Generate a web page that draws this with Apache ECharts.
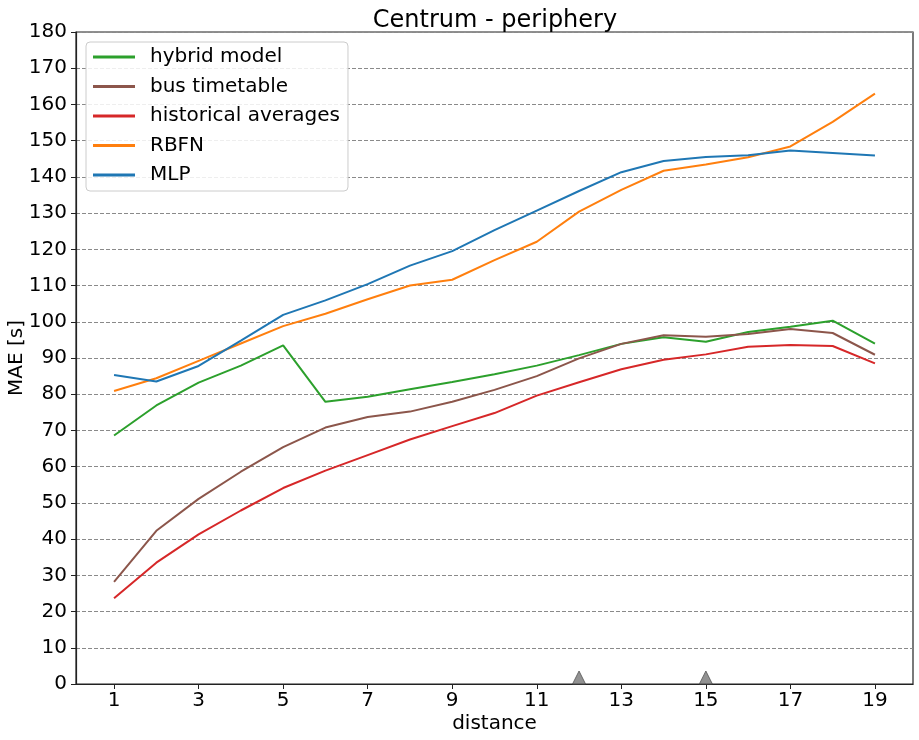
<!DOCTYPE html>
<html>
<head>
<meta charset="utf-8">
<script src="https://cdn.jsdelivr.net/npm/echarts@6/dist/echarts.min.js"></script>
<style>html,body{margin:0;padding:0;background:#fff}#c{width:919px;height:740px}</style>
</head>
<body>
<div id="c"></div>
<script>
var distances = [1,2,3,4,5,6,7,8,9,10,11,12,13,14,15,16,17,18,19];
var hybridModel = [68.6,76.9,83.2,87.9,93.5,77.9,79.3,81.4,83.4,85.5,87.9,90.8,93.9,95.7,94.5,97.2,98.6,100.3,94.0];
var busTimetable = [28.2,42.3,51.1,58.6,65.4,70.8,73.7,75.2,77.9,81.2,85.0,89.9,93.9,96.3,95.9,96.6,98.0,96.9,90.9];
var historicalAverages = [23.7,33.5,41.3,47.9,54.1,58.9,63.2,67.5,71.2,74.8,79.6,83.3,86.9,89.5,91.0,93.1,93.6,93.3,88.5];
var rbfn = [80.9,84.4,89.2,94.0,98.8,102.2,106.2,110.0,111.6,117.0,122.1,130.4,136.4,141.7,143.4,145.4,148.4,155.2,163.0];
var mlp = [85.3,83.5,87.8,94.8,101.9,105.9,110.4,115.5,119.5,125.3,130.7,136.1,141.3,144.4,145.5,146.0,147.3,146.6,145.9];
var markerDistances = [12,15];
var xTicks = [1,3,5,7,9,11,13,15,17,19];
var seriesNames = ['hybrid model','bus timetable','historical averages','RBFN','MLP'];
var seriesColors = ['#2ca02c','#8c564b','#d62728','#ff7f0e','#1f77b4'];
var seriesValues = [hybridModel, busTimetable, historicalAverages, rbfn, mlp];

var FONT = 'DejaVu Sans';
var chart = echarts.init(document.getElementById('c'), null, {renderer:'canvas'});
var series = seriesNames.map(function(n,i){
  return {
    name:n, type:'line', showSymbol:false, symbol:'none',
    data: distances.map(function(d,j){return [d, seriesValues[i][j]];}),
    lineStyle:{color:seriesColors[i], width:2},
    itemStyle:{color:seriesColors[i]},
    z: 2+i
  };
});
series.push({
  name:'markers', type:'scatter', clip:false,
  data: markerDistances.map(function(d){return [d,0];}),
  symbol:'triangle', symbolSize:[13,13], symbolOffset:[0,'-50%'],
  itemStyle:{color:'#777777', borderColor:'#555555', borderWidth:1},
  z: 10, silent:true
});
chart.setOption({
  animation:false,
  backgroundColor:'#ffffff',
  textStyle:{fontFamily:FONT},
  title:{text:'Centrum - periphery', left:490, top:4, textAlign:'center',
    textStyle:{fontFamily:FONT, fontSize:24, fontWeight:'normal', color:'#000'}},
  grid:{left:76, right:6, top:32, bottom:56, show:true, borderColor:'#222', borderWidth:1.2, backgroundColor:'transparent', containLabel:false, outerBoundsMode:'none'},
  legend:{
    data:seriesNames, orient:'vertical', left:86, top:42,
    backgroundColor:'rgba(255,255,255,0.85)', borderColor:'#cccccc', borderWidth:1, borderRadius:4,
    padding:[5,8,6,7], itemGap:9.5, itemWidth:42, itemHeight:3,
    icon:'rect',
    textStyle:{fontFamily:FONT, fontSize:20, color:'#000', lineHeight:20, padding:[0,0,0,10]}
  },
  xAxis:{
    type:'value', min:0.1, max:19.9,
    name:'distance', nameLocation:'middle', nameGap:30, nameMoveOverlap:false,
    nameTextStyle:{fontFamily:FONT, fontSize:20, color:'#000'},
    axisLine:{show:true, lineStyle:{color:'#222', width:1.2}},
    axisTick:{show:true, length:5, inside:false, customValues:xTicks, lineStyle:{color:'#222'}},
    axisLabel:{fontFamily:FONT, fontSize:20, color:'#000', margin:7, customValues:xTicks},
    splitLine:{show:false}
  },
  yAxis:{
    type:'value', min:0, max:180, interval:10,
    name:'MAE [s]', nameLocation:'middle', nameGap:49, nameMoveOverlap:false,
    nameTextStyle:{fontFamily:FONT, fontSize:20, color:'#000'},
    axisLine:{show:true, lineStyle:{color:'#222', width:1.2}},
    axisTick:{show:true, length:5, lineStyle:{color:'#222'}},
    axisLabel:{fontFamily:FONT, fontSize:20, color:'#000', margin:9},
    splitLine:{show:true, lineStyle:{color:'#8a8a8a', type:[4,2], width:1}}
  },
  series:series
});
</script>
</body>
</html>
